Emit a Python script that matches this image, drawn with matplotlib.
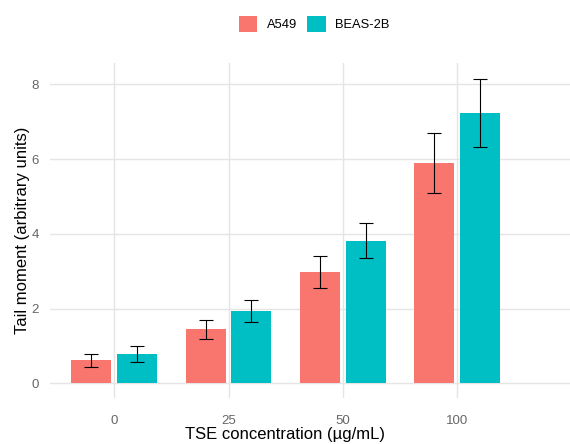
import numpy as np
import matplotlib.pyplot as plt

plt.rcParams['font.family'] = ['Liberation Sans', 'DejaVu Sans']

# data
concentrations = ['0', '25', '50', '100']
a549_mean = [0.62, 1.45, 2.97, 5.89]
a549_err = [0.18, 0.25, 0.43, 0.80]
beas_mean = [0.78, 1.93, 3.82, 7.23]
beas_err = [0.21, 0.29, 0.47, 0.92]

fig = plt.figure(figsize=(5.7, 4.44), dpi=100)
ax = fig.add_axes([50 / 570, 46 / 444, 520 / 570, 335 / 444])

x = np.arange(len(concentrations))
w = 0.35
off = 0.2
ax.bar(x - off, a549_mean, width=w, color='#F8766D', label='A549', zorder=2)
ax.bar(x + off, beas_mean, width=w, color='#00BFC4', label='BEAS-2B', zorder=2)
ax.errorbar(x - off, a549_mean, yerr=a549_err, fmt='none', ecolor='black',
            elinewidth=0.8, capsize=4.7, capthick=0.8, zorder=3)
ax.errorbar(x + off, beas_mean, yerr=beas_err, fmt='none', ecolor='black',
            elinewidth=0.8, capsize=4.7, capthick=0.8, zorder=3)

ax.set_xlim(-0.563, 3.99)
ax.set_ylim(-0.39, 8.57)
ax.set_xticks(x)
ax.set_xticklabels(concentrations)
ax.set_yticks([0, 2, 4, 6, 8])

for s in ax.spines.values():
    s.set_visible(False)
ax.grid(True, color='#E5E5E5', linewidth=1.0, zorder=0)
ax.set_axisbelow(True)
ax.tick_params(length=0, labelsize=9.5, colors='#666666', pad=8)
ax.tick_params(axis='x', pad=12)

ax.set_ylabel('Tail moment (arbitrary units)', fontsize=12, color='black')
ax.yaxis.set_label_coords(-0.038, 0.5)
ax.set_xlabel('TSE concentration (µg/mL)', fontsize=12, color='black')
ax.xaxis.set_label_coords((285 - 50) / 520, -0.087)

leg = fig.legend(loc='center', bbox_to_anchor=(314 / 570, 1 - 24 / 444), ncol=2,
                 frameon=False, fontsize=9.3, handlelength=1.45, handleheight=1.45,
                 handletextpad=0.7, columnspacing=0.8)

plt.savefig('out.png', dpi=100)
